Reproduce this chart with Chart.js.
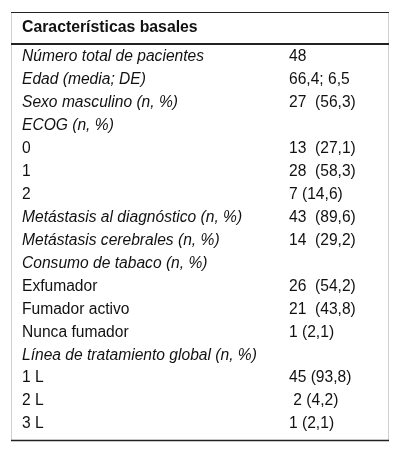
<!DOCTYPE html>
<html>
<head>
<meta charset="utf-8">
<script src="https://cdn.jsdelivr.net/npm/chart.js@4"></script>
<style>
  html, body { margin: 0; padding: 0; background: #fff; }
  #wrap { width: 400px; height: 453px; }
</style>
</head>
<body>
<div id="wrap"><canvas id="myChart"></canvas></div>
<script>
const title = 'Características basales';
const rowLabels = [
	'Número total de pacientes', 'Edad (media; DE)', 'Sexo masculino (n, %)', 'ECOG (n, %)',
	'0', '1', '2', 'Metástasis al diagnóstico (n, %)', 'Metástasis cerebrales (n, %)',
	'Consumo de tabaco (n, %)', 'Exfumador', 'Fumador activo', 'Nunca fumador',
	'Línea de tratamiento global (n, %)', '1 L', '2 L', '3 L'
];
const rowValues = [
	'48', '66,4; 6,5', '27  (56,3)', '',
	'13  (27,1)', '28  (58,3)', '7 (14,6)', '43  (89,6)', '14  (29,2)',
	'', '26  (54,2)', '21  (43,8)', '1 (2,1)',
	'', '45 (93,8)', ' 2 (4,2)', '1 (2,1)'
];
const italicRows = [0, 1, 2, 3, 7, 8, 9, 13];

// draws the table text on the y category scale
const tablePlugin = {
	id: 'tablePlugin',
	afterDraw(chart) {
		const c = chart.ctx;
		const y = chart.scales.y;
		c.save();
		// frame
		c.strokeStyle = '#d0d0d0';
		c.lineWidth = 1;
		c.beginPath();
		c.moveTo(11.5, 12); c.lineTo(11.5, 441);
		c.moveTo(388.5, 12); c.lineTo(388.5, 441);
		c.stroke();
		c.strokeStyle = '#222';
		c.lineWidth = 1;
		c.beginPath(); c.moveTo(11, 12.5); c.lineTo(389, 12.5); c.stroke();
		c.lineWidth = 2;
		c.beginPath(); c.moveTo(11, 44); c.lineTo(389, 44); c.stroke();
		c.lineWidth = 1.5;
		c.beginPath(); c.moveTo(11, 440.5); c.lineTo(389, 440.5); c.stroke();

		c.fillStyle = '#111';
		c.textBaseline = 'middle';
		c.font = 'bold 15.8px "Liberation Sans", Arial, sans-serif';
		c.fillText(title, 22, 28);
		rowLabels.forEach((lab, i) => {
			const py = y.getPixelForValue(i);
			const it = italicRows.includes(i) ? 'italic ' : '';
			c.font = it + '15.6px "Liberation Sans", Arial, sans-serif';
			c.fillText(lab, 22, py);
			c.font = '15.6px "Liberation Sans", Arial, sans-serif';
			c.fillText(rowValues[i], 289, py);
		});
		c.restore();
	}
};

const ctx = document.getElementById('myChart').getContext('2d');
const myChart = new Chart(ctx, {
	type: 'bar',
	data: {
		labels: rowLabels,
		datasets: [{ data: rowLabels.map(() => null) }]
	},
	options: {
		indexAxis: 'y',
		responsive: true,
		maintainAspectRatio: false,
		animation: false,
		layout: { padding: { top: 45.5, bottom: 17.5, left: 0, right: 0 } },
		scales: {
			x: { display: false, min: 0, max: 1 },
			y: { display: false, offset: true }
		},
		plugins: { legend: { display: false }, tooltip: { enabled: false } }
	},
	plugins: [tablePlugin]
});
</script>
</body>
</html>
